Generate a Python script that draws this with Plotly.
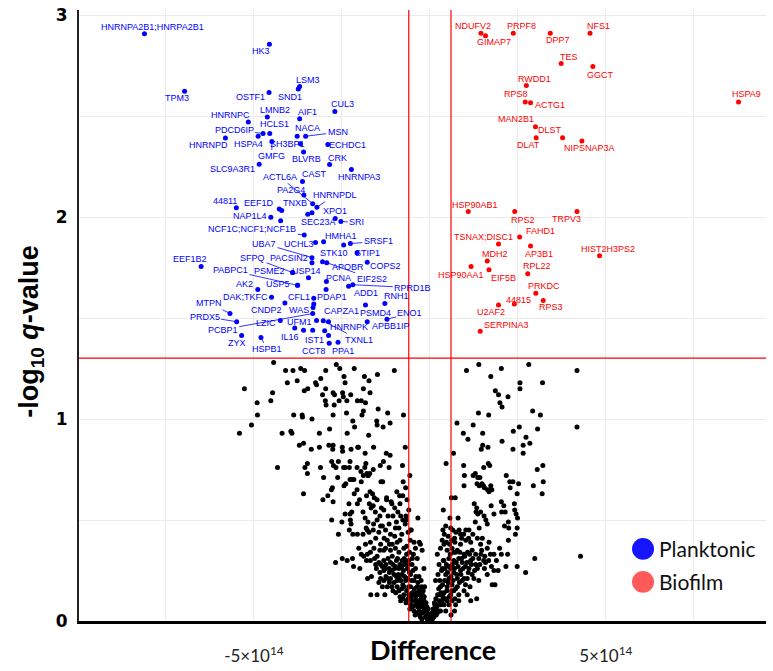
import plotly.graph_objects as go

SCALE = 1e14  # x values below are in units of 1e14

# ---------------- significant, higher in planktonic (blue) ----------------
planktonic_genes = [
    "HNRNPA2B1;HNRPA2B1", "HK3", "LSM3", "SND1", "TPM3", "OSTF1", "CUL3", "HNRNPC", "LMNB2", "AIF1",
    "HCLS1", "PDCD6IP", "NACA", "MSN", "HNRNPD", "HSPA4", "SH3BP1", "GMFG", "ECHDC1", "BLVRB",
    "CRK", "SLC9A3R1", "HNRNPA3", "CAST", "ACTL6A", "PA2G4", "HNRNPDL", "TNXB", "EEF1D", "44811",
    "XPO1", "SEC23A", "SRI", "NAP1L4", "NCF1C;NCF1;NCF1B", "HMHA1", "UCHL3", "UBA7", "SRSF1", "STK10",
    "STIP1", "PACSIN2", "SFPQ", "APOBR", "EIF2S2", "COPS2", "PSME2", "USP14", "AK2", "USP5",
    "PABPC1", "DAK;TKFC", "CFL1", "PDAP1", "PCNA", "RPRD1B", "ADD1", "RNH1", "PSMD4", "ENO1",
    "APBB1IP", "MTPN", "CNDP2", "WAS", "CAPZA1", "PRDX5", "LZIC", "UFM1", "HNRNPK", "TXNL1",
    "PCBP1", "ZYX", "HSPB1", "IL16", "IST1", "CCT8", "PPA1", "EEF1B2",
]
planktonic_diff = [
    -8.11, -4.56, -3.70, -3.74, -6.97, -4.57, -2.70, -5.16, -4.62, -3.70,
    -4.55, -4.74, -3.77, -3.53, -5.81, -4.88, -3.68, -4.49, -2.90, -3.59,
    -2.85, -4.85, -2.23, -3.62, -3.33, -3.58, -3.21, -4.21, -4.28, -5.50,
    -3.35, -3.47, -2.53, -4.52, -3.57, -3.02, -3.25, -3.35, -2.26, -2.45,
    -2.07, -3.35, -3.90, -3.05, -2.93, -1.78, -3.90, -3.45, -4.89, -3.76,
    -3.76, -4.50, -3.30, -2.95, -2.94, -2.19, -2.31, -1.28, -1.83, -1.22,
    -1.78, -5.68, -4.12, -3.30, -3.32, -5.49, -4.25, -3.22, -2.88, -3.03,
    -3.33, -5.35, -4.80, -3.84, -3.33, -2.86, -2.61, -6.50,
]
planktonic_logq = [
    2.908, 2.856, 2.646, 2.634, 2.623, 2.617, 2.523, 2.470, 2.495, 2.486,
    2.414, 2.414, 2.400, 2.400, 2.391, 2.400, 2.363, 2.374, 2.359, 2.322,
    2.260, 2.261, 2.235, 2.176, 2.066, 2.109, 2.049, 2.032, 2.040, 2.046,
    2.021, 2.014, 1.978, 1.999, 1.911, 1.878, 1.874, 1.799, 1.869, 1.861,
    1.823, 1.774, 1.725, 1.779, 1.774, 1.776, 1.725, 1.699, 1.641, 1.662,
    1.662, 1.603, 1.598, 1.641, 1.681, 1.665, 1.657, 1.572, 1.565, 1.494,
    1.482, 1.523, 1.574, 1.569, 1.552, 1.482, 1.488, 1.488, 1.481, 1.486,
    1.522, 1.413, 1.404, 1.450, 1.439, 1.375, 1.380, 1.755,
]
planktonic_extra_diff = [-4.24, -2.69, -3.59, -2.99, -2.88]
planktonic_extra_logq = [1.981, 1.993, 1.440, 1.437, 1.413]

# ---------------- significant, higher in biofilm (red) ----------------
biofilm_genes = [
    "NDUFV2", "GIMAP7", "PRPF8", "DPP7", "NFS1", "TES", "GGCT", "RWDD1", "RPS8", "ACTG1",
    "HSPA9", "MAN2B1", "DLST", "DLAT", "NIPSNAP3A", "HSP90AB1", "RPS2", "TRPV3", "FAHD1", "TSNAX;DISC1",
    "AP3B1", "HIST2H3PS2", "MDH2", "HSP90AA1", "EIF5B", "RPL22", "PRKDC", "44815", "U2AF2", "RPS3",
    "SERPINA3",
]
biofilm_diff = [
    1.45, 1.58, 2.37, 3.42, 4.55, 3.73, 4.63, 2.74, 2.71, 2.86,
    8.77, 3.00, 3.77, 3.02, 4.32, 1.09, 2.41, 4.18, 2.55, 1.95,
    2.86, 4.82, 1.63, 1.17, 1.68, 2.78, 3.01, 2.40, 1.95, 3.22,
    1.43,
]
biofilm_logq = [
    2.910, 2.898, 2.910, 2.910, 2.910, 2.760, 2.745, 2.651, 2.569, 2.566,
    2.569, 2.447, 2.393, 2.393, 2.377, 2.027, 2.027, 2.027, 1.901, 1.866,
    1.856, 1.808, 1.782, 1.755, 1.739, 1.719, 1.623, 1.570, 1.565, 1.587,
    1.435,
]

# ---------------- not significant (black): (difference x1e14, -log10 q) ----------------
nonsig_points = [
    (-4.44,1.28),(-4.10,1.24),(-3.89,1.24),(-3.67,1.25),(-3.56,1.24),(-2.96,1.24),(-2.66,1.27),(-2.56,1.25),(-2.15,1.25),(-2.44,1.21),(-1.86,1.21),(-1.73,1.19),(-1.49,1.22),(-1.01,1.24),
    (-4.05,1.18),(-3.77,1.19),(-3.25,1.18),(-3.22,1.17),(-3.10,1.20),(-2.41,1.18),
    (-5.27,1.15),(-4.47,1.13),(-3.57,1.14),(-3.47,1.15),(-2.96,1.15),(-3.05,1.12),(-2.75,1.13),(-2.71,1.12),(-2.48,1.13),(-2.46,1.11),(-2.25,1.12),(-1.89,1.15),(-1.70,1.13),
    (-4.91,1.08),(-4.52,1.09),(-2.97,1.09),(-2.95,1.07),(-2.72,1.07),(-2.58,1.09),(-2.36,1.09),(-2.06,1.09),(-1.95,1.09),(-1.83,1.08),
    (-4.90,1.02),(-3.87,1.02),(-3.63,1.02),(-3.62,1.01),(-3.35,1.00),(-2.75,1.02),(-2.37,1.03),(-1.93,1.02),(-1.89,1.04),(-1.47,1.05),(-1.20,1.03),(-0.75,1.02),
    (-5.07,0.97),(-5.41,0.93),(-4.20,0.93),(-3.95,0.94),(-3.92,0.93),(-3.14,0.93),(-2.85,0.95),(-2.35,0.93),(-2.19,0.99),(-2.14,0.96),(-1.74,0.92),(-1.51,0.99),(-1.50,0.97),(-1.33,0.96),(-1.13,0.98),
    (-3.71,0.87),(-3.59,0.88),(-3.37,0.85),(-3.14,0.86),(-2.87,0.87),(-2.75,0.87),(-2.76,0.85),(-2.49,0.86),(-2.48,0.84),(-2.24,0.85),(-2.05,0.86),(-2.03,0.86),(-1.84,0.83),(-1.60,0.86),(-1.24,0.83),(-1.13,0.82),(-0.70,0.86),
    (-4.33,0.76),(-3.55,0.76),(-3.48,0.78),(-3.48,0.73),(-3.11,0.76),(-3.02,0.71),(-2.79,0.79),(-2.74,0.77),(-2.60,0.79),(-2.67,0.76),(-2.62,0.71),(-2.45,0.76),(-2.41,0.76),(-2.27,0.79),(-2.29,0.76),(-2.22,0.70),(-2.16,0.70),(-2.07,0.76),(-1.96,0.74),(-1.89,0.72),(-1.85,0.76),(-1.82,0.78),(-1.79,0.73),(-1.76,0.72),(-1.71,0.73),(-1.75,0.72),(-1.61,0.75),(-1.41,0.77),(-1.32,0.79),(-1.16,0.76),(-0.78,0.77),(-0.76,0.69),(-0.57,0.72),
    (-3.59,0.63),(-3.04,0.60),(-2.90,0.62),(-2.80,0.65),(-2.77,0.66),(-2.75,0.59),(-2.44,0.67),(-2.39,0.68),(-2.27,0.70),(-2.07,0.65),(-1.95,0.69),(-1.70,0.64),(-1.63,0.63),(-1.58,0.61),(-1.39,0.69),(-1.34,0.69),(-1.23,0.61),(-0.94,0.64),(-0.86,0.62),(-0.77,0.62),(-0.69,0.66),
    (-2.79,0.50),(-2.60,0.43),(-2.50,0.49),(-2.41,0.53),(-2.30,0.58),(-2.27,0.53),(-2.26,0.50),(-2.22,0.54),(-2.24,0.48),(-2.29,0.45),(-2.06,0.58),(-2.06,0.43),(-2.19,0.43),(-1.90,0.54),(-1.90,0.43),(-1.84,0.51),(-1.81,0.46),(-1.78,0.45),(-1.73,0.44),(-1.76,0.49),(-1.72,0.58),(-1.67,0.56),(-1.61,0.57),(-1.61,0.45),(-1.55,0.54),(-1.42,0.52),(-1.40,0.47),(-1.38,0.56),(-1.31,0.55),(-1.23,0.60),(-1.19,0.52),(-1.16,0.48),(-1.10,0.59),(-1.08,0.58),(-0.91,0.54),(-0.83,0.52),(-0.77,0.50),(-0.68,0.52),(-0.68,0.50),(-0.70,0.48),(-0.80,0.43),(-0.55,0.45),(-0.34,0.51),
    (-2.68,0.29),(-2.49,0.31),(-2.35,0.30),(-2.20,0.31),(-2.17,0.27),(-1.99,0.26),(-1.95,0.33),(-1.77,0.21),(-1.68,0.13),(-1.66,0.22),(-1.50,0.13),(-1.45,0.19),(-1.28,0.13),(-1.21,0.17),(-1.08,0.17),(-1.40,0.21),(-1.31,0.25),(-1.16,0.26),(-1.02,0.23),(-0.93,0.20),(-0.88,0.15),(-0.83,0.10),(-0.77,0.18),(-0.64,0.21),(-0.55,0.17),(-0.72,0.28),(-0.51,0.28),(-0.36,0.31),(-0.22,0.35),(-0.27,0.38),(-0.17,0.26),(-0.15,0.17),(-0.45,0.39),(-0.53,0.45),(-0.30,0.39),(-0.79,0.30),(-0.92,0.31),(-1.07,0.32),(-1.31,0.35),(-1.42,0.35),(-1.59,0.36),(-1.69,0.34),(-1.88,0.32),(-1.80,0.30),(-1.57,0.31),(-1.54,0.28),(-1.40,0.28),(-1.26,0.26),
    (-1.31,0.30),(-1.19,0.31),(-1.12,0.29),(-0.98,0.27),(-0.88,0.26),(-0.79,0.23),(-0.69,0.20),(-0.60,0.17),(-0.50,0.14),(-0.41,0.12),(-0.31,0.09),(-0.22,0.07),(-0.12,0.04),(-0.06,0.02),(-0.64,0.26),(-0.55,0.23),(-0.45,0.20),(-0.36,0.17),(-0.27,0.13),(-0.17,0.10),(-0.09,0.07),(-0.74,0.13),(-0.64,0.10),(-0.55,0.08),(-0.45,0.05),(-0.36,0.04),(-0.27,0.02),(-1.12,0.21),(-1.02,0.19),(-0.93,0.17),(-1.35,0.17),(-1.21,0.21),(-1.07,0.25),(-0.95,0.22),(-0.83,0.20),(-0.74,0.17),(-0.60,0.13),(-0.50,0.10),(-0.41,0.08),(-0.31,0.05),(-0.22,0.04),(-0.41,0.26),(-0.31,0.22),(-0.25,0.20),(-0.19,0.15),(-1.31,0.20),(-1.42,0.24),(-1.52,0.26),(-1.69,0.30),(-1.78,0.33),(-1.50,0.32),(-1.26,0.36),(-1.12,0.35),(-0.98,0.36),(-0.88,0.34),(-0.74,0.36),(-0.66,0.33),(-0.60,0.30),(-0.47,0.33),(-0.41,0.36),(-0.93,0.39),(-1.07,0.38),(-1.21,0.40),(-1.40,0.38),(-1.54,0.41),(-1.69,0.39),(-1.83,0.38),(-2.02,0.36),(-1.12,0.43),(-0.98,0.46),(-1.26,0.45),
    (-1.45,0.29),(-1.35,0.27),(-1.25,0.28),(-1.15,0.24),(-1.05,0.28),(-0.95,0.30),(-0.85,0.28),(-0.75,0.25),(-0.70,0.30),(-0.62,0.28),(-0.58,0.24),(-0.52,0.20),(-0.48,0.25),(-0.44,0.16),(-0.40,0.22),(-0.38,0.14),(-0.34,0.19),(-0.33,0.10),(-0.30,0.15),(-0.28,0.07),(-0.25,0.11),(-0.24,0.17),(-0.21,0.13),(-0.20,0.09),(-0.18,0.05),(-0.16,0.12),(-0.14,0.07),(-0.13,0.02),(-0.11,0.09),(-0.10,0.05),(-0.08,0.01),(-0.07,0.04),(-0.05,0.06),(-0.04,0.02),(-0.02,0.03),(-0.01,0.01),
    (-0.66,0.15),(-0.62,0.11),(-0.57,0.06),(-0.53,0.12),(-0.49,0.07),(-0.46,0.13),(-0.42,0.03),(-0.39,0.10),(-0.35,0.07),(-0.32,0.13),(-0.29,0.03),(-0.26,0.09),(-0.23,0.01),
    (-0.85,0.12),(-0.80,0.16),(-0.76,0.11),(-0.72,0.22),(-0.68,0.09),(-0.90,0.23),(-0.97,0.14),(-1.05,0.15),(-1.15,0.19),(-1.25,0.22),(-1.00,0.26),(-0.86,0.21),(-0.80,0.27),(-0.73,0.31),(-0.66,0.37),(-0.58,0.34),(-0.50,0.31),(-0.56,0.40),(-0.62,0.44),(-0.85,0.40),(-1.00,0.42),(-1.15,0.38),(-1.30,0.41),(-1.45,0.44),(-1.60,0.48),(-1.50,0.50),(-1.35,0.47),(-0.95,0.49),(-0.88,0.46),(-1.05,0.52),(-0.60,0.55),(-0.65,0.60),(-0.85,0.58),(-1.00,0.56),(-1.50,0.60),(-1.80,0.62),(-2.00,0.60),(-2.15,0.63),
    (1.04,1.24),(1.39,1.27),(1.73,1.21),(2.03,1.25),(2.81,1.27),(4.18,1.24),(3.20,1.18),(2.56,1.18),(2.56,1.15),(1.86,1.14),(1.95,1.12),(2.22,1.11),(1.99,1.08),(2.05,1.06),
    (1.38,1.03),(1.67,1.02),(2.92,1.04),(3.14,1.02),(0.77,0.98),(1.23,0.97),(2.54,0.96),(2.37,0.94),(3.06,0.95),(4.18,0.96),
    (0.95,0.93),(1.08,0.90),(1.50,0.93),(2.05,0.89),(2.73,0.91),(2.84,0.88),(2.65,0.87),(2.65,0.83),(2.36,0.85),(1.46,0.85),(1.50,0.87),(1.65,0.86),(0.67,0.83),
    (0.46,0.78),(0.96,0.77),(1.53,0.76),(1.66,0.78),(1.70,0.77),(3.05,0.75),(3.21,0.77),(1.23,0.72),(1.29,0.73),(1.36,0.71),(1.42,0.71),(0.98,0.72),(2.17,0.72),(2.27,0.69),(2.36,0.69),(2.52,0.68),(2.94,0.67),(3.22,0.69),(3.19,0.63),(0.97,0.67),(1.34,0.68),(1.40,0.67),(1.48,0.68),(1.52,0.67),(1.55,0.66),(1.64,0.65),(1.68,0.64),(1.76,0.65),(1.73,0.67),(2.28,0.66),(2.48,0.63),(0.61,0.61),(0.72,0.61),
    (1.26,0.58),(1.33,0.56),(1.31,0.54),(1.36,0.53),(1.44,0.54),(1.54,0.52),(1.59,0.50),(1.63,0.48),(1.74,0.57),(1.82,0.53),(2.03,0.59),(2.10,0.57),(2.04,0.54),(2.14,0.54),(2.12,0.47),(2.23,0.49),(2.24,0.46),(2.40,0.58),(2.41,0.55),(2.45,0.53),(2.49,0.51),(2.48,0.46),(2.43,0.43),(1.29,0.49),(1.40,0.46),(1.02,0.45),(0.96,0.43),(0.87,0.43),(0.80,0.51),(0.57,0.51),(0.38,0.55),(0.37,0.45),(0.41,0.43),(0.59,0.46),(0.65,0.45),(0.74,0.44),(1.11,0.45),
    (0.47,0.39),(0.56,0.38),(0.71,0.39),(0.78,0.35),(0.97,0.33),(1.07,0.34),(1.20,0.35),(1.30,0.33),(1.44,0.38),(1.47,0.35),(1.56,0.32),(1.72,0.33),(1.82,0.33),(1.89,0.30),(2.03,0.33),(2.21,0.33),(1.98,0.36),(2.23,0.40),(2.16,0.27),(2.48,0.27),(2.72,0.24),(2.98,0.31),(4.28,0.32),(1.82,0.25),(1.77,0.18),(1.85,0.18),(1.33,0.11),(1.06,0.13),(1.94,0.25),(1.55,0.26),(1.25,0.21),
    (0.21,0.33),(0.30,0.36),(0.40,0.38),(0.49,0.35),(0.63,0.36),(0.73,0.34),(0.82,0.31),(0.92,0.29),(1.01,0.27),(1.11,0.26),(1.20,0.23),(1.06,0.21),(0.92,0.20),(0.78,0.17),(0.68,0.15),(0.59,0.13),(0.49,0.10),(0.40,0.08),(0.30,0.05),(0.21,0.04),(0.11,0.02),(0.07,0.01),(0.26,0.28),(0.35,0.26),(0.45,0.23),(0.54,0.21),(0.63,0.18),(0.73,0.16),(0.82,0.13),(0.59,0.26),(0.68,0.24),(0.78,0.21),(0.87,0.25),(0.97,0.21),(1.01,0.18),(1.14,0.17),(0.30,0.17),(0.40,0.14),(0.49,0.17),(0.26,0.13),(0.19,0.08),(0.35,0.10),(0.45,0.05),(0.54,0.08),(0.63,0.10),(0.16,0.20),(0.23,0.23),(0.40,0.30),(0.54,0.31),(0.68,0.30),(1.16,0.30),(1.30,0.28),(1.39,0.31),(1.53,0.30),(1.63,0.36),(1.49,0.41),(1.68,0.39),(1.16,0.39),(1.02,0.40),(0.87,0.38),(1.39,0.20),(1.63,0.23),(1.16,0.10),(0.73,0.08),(0.82,0.10),(0.97,0.15),
    (0.02,0.01),(0.04,0.02),(0.06,0.04),(0.08,0.02),(0.09,0.06),(0.12,0.03),(0.13,0.09),(0.15,0.05),(0.17,0.11),(0.18,0.03),(0.20,0.07),(0.22,0.13),(0.24,0.05),(0.25,0.16),(0.27,0.10),(0.28,0.20),(0.31,0.08),(0.32,0.14),(0.33,0.25),(0.36,0.18),(0.37,0.12),(0.38,0.30),(0.42,0.20),(0.43,0.26),(0.44,0.11),(0.47,0.28),(0.48,0.15),(0.50,0.24),(0.52,0.19),(0.55,0.27),(0.57,0.12),(0.58,0.33),(0.60,0.22),(0.62,0.15),(0.64,0.28),(0.66,0.20),(0.68,0.34),(0.70,0.26),(0.71,0.11),(0.75,0.29),(0.76,0.23),(0.80,0.27),(0.84,0.19),(0.85,0.34),(0.88,0.23),(0.90,0.31),(0.94,0.26),(0.99,0.32),(1.05,0.29),(1.09,0.24),(1.13,0.33),(1.18,0.28),(1.22,0.31),(1.27,0.25),(1.35,0.26),(1.42,0.28),(1.45,0.33),(1.58,0.29),(1.67,0.30),(1.75,0.27),(0.90,0.41),(0.83,0.45),(0.70,0.41),(0.62,0.40),(0.52,0.42),(0.45,0.47),(0.35,0.40),(1.10,0.41),(1.22,0.43),(1.35,0.41),(0.60,0.03),(0.55,0.12),(0.70,0.05),
    (0.00,0.00),(-0.03,0.01),(0.03,0.01),(0.05,0.03),(-0.08,0.03),(0.10,0.05),(-0.12,0.06),(0.14,0.08),
]

# thresholds
diff_threshold = 0.6      # x 1e14
q_threshold_log = 1.301   # -log10(0.05)

# ---------------- label placement (pixel offsets from point, leader line flag) ----------------
label_offsets = {
    "HNRNPA2B1;HNRPA2B1": (8, -7, 0), "HK3": (-8, 7, 0), "LSM3": (8, -7, 0), "SND1": (-8, 8, 0),
    "TPM3": (-8, 7, 0), "OSTF1": (-19, 5, 0), "CUL3": (8, -7, 0), "HNRNPC": (-18, -7, 0),
    "LMNB2": (8, -7, 0), "AIF1": (8, -7, 0), "HCLS1": (5, -9, 0), "PDCD6IP": (-29, -3, 1),
    "NACA": (10, -8, 0), "MSN": (32, -4, 1), "HNRNPD": (-17, 7, 0), "HSPA4": (-10, 8, 0),
    "SH3BP1": (-13, 0, 0), "GMFG": (0, 15, 1), "ECHDC1": (20, 0, 0), "BLVRB": (3, 7, 0),
    "CRK": (8, -7, 0), "SLC9A3R1": (-27, 5, 0), "HNRNPA3": (8, 7, 0), "CAST": (12, -7, 0),
    "ACTL6A": (-33, -27, 1), "PA2G4": (-13, -5, 0), "HNRNPDL": (18, -12, 1), "TNXB": (13, -8, 0),
    "EEF1D": (-20, -6, 0), "44811": (-11, -7, 0), "XPO1": (23, -2, 0), "SEC23A": (11, 8, 0),
    "SRI": (16, 1, 1), "NAP1L4": (-21, -1, 0), "NCF1C;NCF1;NCF1B": (-52, -6, 1), "HMHA1": (17, -6, 0),
    "UCHL3": (-17, 2, 0), "UBA7": (-48, -14, 1), "SRSF1": (28, -2, 1), "STK10": (-10, 8, 0),
    "STIP1": (10, 0, 0), "PACSIN2": (-23, -5, 0), "SFPQ": (-40, -15, 1), "APOBR": (25, 5, 0),
    "EIF2S2": (45, 16, 1), "COPS2": (18, 4, 0), "PSME2": (-23, -2, 0), "USP14": (-2, -7, 0),
    "AK2": (-13, -6, 0), "USP5": (-20, -1, 0), "PABPC1": (-67, -15, 1), "DAK;TKFC": (-26, 0, 0),
    "CFL1": (-15, -1, 0), "PDAP1": (6, 7, 0), "PCNA": (12, -3, 0), "RPRD1B": (60, 3, 1),
    "ADD1": (17, 7, 0), "RNH1": (12, -7, 0), "PSMD4": (10, 8, 0), "ENO1": (23, -6, 1),
    "APBB1IP": (24, 4, 0), "MTPN": (-21, -10, 1), "CNDP2": (-18, 7, 0), "WAS": (-15, 6, 0),
    "CAPZA1": (28, 3, 0), "PRDX5": (-32, -5, 1), "LZIC": (-14, 3, 0), "UFM1": (-17, 2, 0),
    "HNRNPK": (20, 5, 0), "TXNL1": (36, 19, 1), "PCBP1": (-90, 16, 1), "ZYX": (-5, 7, 0),
    "HSPB1": (6, 12, 1), "IL16": (-5, 9, 0), "IST1": (2, 10, 0), "CCT8": (-15, 8, 0),
    "PPA1": (5, 9, 0), "EEF1B2": (-11, -8, 0),
    "NDUFV2": (-8, -7, 0), "GIMAP7": (8, 6, 0), "PRPF8": (8, -7, 0), "DPP7": (8, 7, 0),
    "NFS1": (8, -7, 0), "TES": (8, -7, 0), "GGCT": (8, 8, 0), "RWDD1": (8, -7, 0),
    "RPS8": (-9, -8, 0), "ACTG1": (19, 2, 0), "HSPA9": (8, -8, 0), "MAN2B1": (-19, -8, 0),
    "DLST": (-13, -8, 0), "DLAT": (-8, 7, 0), "NIPSNAP3A": (8, 7, 0), "HSP90AB1": (7, -7, 0),
    "RPS2": (8, 8, 0), "TRPV3": (-11, 7, 0), "FAHD1": (21, -6, 0), "TSNAX;DISC1": (-15, -7, 0),
    "AP3B1": (8, 8, 0), "HIST2H3PS2": (8, -7, 0), "MDH2": (8, -7, 0), "HSP90AA1": (-10, 8, 0),
    "EIF5B": (14, 8, 0), "RPL22": (9, -8, 0), "PRKDC": (8, -7, 0), "44815": (4, -4, 0),
    "U2AF2": (-8, 7, 0), "RPS3": (8, 7, 0), "SERPINA3": (26, -6, 0),
}

BLUE = "#0000FF"
RED = "#FF0000"
LABEL_FONT = "Liberation Sans, Arial, sans-serif"

fig = go.Figure()

fig.add_trace(go.Scatter(
    x=[p[0] * SCALE for p in nonsig_points], y=[p[1] for p in nonsig_points],
    mode="markers", marker=dict(color="black", size=5), showlegend=False,
    cliponaxis=False, hoverinfo="skip"))

fig.add_trace(go.Scatter(
    x=[d * SCALE for d in planktonic_diff + planktonic_extra_diff],
    y=planktonic_logq + planktonic_extra_logq,
    mode="markers", marker=dict(color=BLUE, size=5), name="Planktonic", showlegend=False))

fig.add_trace(go.Scatter(
    x=[d * SCALE for d in biofilm_diff], y=biofilm_logq,
    mode="markers", marker=dict(color=RED, size=5), name="Biofilm", showlegend=False))

annotations = []
for genes, diffs, logqs, col in [(planktonic_genes, planktonic_diff, planktonic_logq, BLUE),
                                 (biofilm_genes, biofilm_diff, biofilm_logq, RED)]:
    for g, d, q in zip(genes, diffs, logqs):
        dx, dy, leader = label_offsets[g]
        annotations.append(dict(
            x=d * SCALE, y=q, xref="x", yref="y", text=g, showarrow=True,
            ax=dx, ay=dy, arrowhead=0, arrowwidth=0.8, standoff=2,
            arrowcolor=col if leader else "rgba(0,0,0,0)",
            font=dict(family=LABEL_FONT, size=9, color=col)))

# axis titles
annotations.append(dict(text="<b>Difference</b>", xref="paper", yref="paper", x=0.515, y=-0.047,
                        showarrow=False, xanchor="center", yanchor="middle",
                        font=dict(family="Lato, Carlito, sans-serif", size=27, color="black")))
annotations.append(dict(text="<b>-log<sub>10</sub> <i>q</i>-value</b>", xref="paper", yref="paper",
                        x=-0.07, y=0.475, showarrow=False, textangle=-90,
                        xanchor="center", yanchor="middle",
                        font=dict(family="Liberation Sans, Arial, sans-serif", size=27, color="black")))

# legend (manual, large circles)
legend_items = [("Planktonic", "#1515FF", 0.118), ("Biofilm", "#FF5A5A", 0.064)]
shapes = []
for name, col, ypos in legend_items:
    shapes.append(dict(type="circle", xref="paper", yref="paper",
                       x0=0.821 - 0.016, x1=0.821 + 0.016, y0=ypos - 0.0178, y1=ypos + 0.0178,
                       fillcolor=col, line=dict(width=0)))
    annotations.append(dict(text=name, xref="paper", yref="paper", x=0.842, y=ypos,
                            showarrow=False, xanchor="left", yanchor="middle",
                            font=dict(family="Lato, Carlito, sans-serif", size=21, color="#111")))

x_labels = [-5e14, 5e14]
x_text = ["-5×10<sup>14</sup>", "5×10<sup>14</sup>"]
y_labels = [0, 1, 2, 3]

fig.update_layout(
    width=773, height=671,
    margin=dict(l=79, r=7, t=5, b=47),
    plot_bgcolor="white", paper_bgcolor="white",
    showlegend=False,
    annotations=annotations,
    shapes=shapes,
    xaxis=dict(range=[-0.997e15, 0.955e15], tickmode="array", tickvals=x_labels, ticktext=x_text,
               showgrid=True, gridcolor="#ebebeb", gridwidth=1, zeroline=False,
               minor=dict(tick0=0, dtick=2.5e14, showgrid=True, gridcolor="#ebebeb", ticks=""),
               showline=True, linecolor="black", linewidth=3, ticks="",
               ticklabelstandoff=18,
               tickfont=dict(family="Lato, Carlito, sans-serif", size=17, color="#222")),
    yaxis=dict(range=[0, 3.025], tickmode="array", tickvals=y_labels,
               showgrid=True, gridcolor="#ebebeb", gridwidth=1, zeroline=False,
               minor=dict(tick0=0, dtick=0.5, showgrid=True, gridcolor="#ebebeb", ticks=""),
               showline=True, linecolor="#222", linewidth=2, ticks="",
               ticklabelstandoff=6,
               tickfont=dict(family="DejaVu Sans, Verdana, sans-serif", size=17, color="black",
                             weight="bold")),
)

# threshold lines (added after layout so they are kept alongside the legend shapes)
fig.add_vline(x=-diff_threshold * SCALE, line_color=RED, line_width=1.2)
fig.add_vline(x=diff_threshold * SCALE, line_color=RED, line_width=1.2)
fig.add_hline(y=q_threshold_log, line_color=RED, line_width=1.2)

fig.write_html("out.html")
